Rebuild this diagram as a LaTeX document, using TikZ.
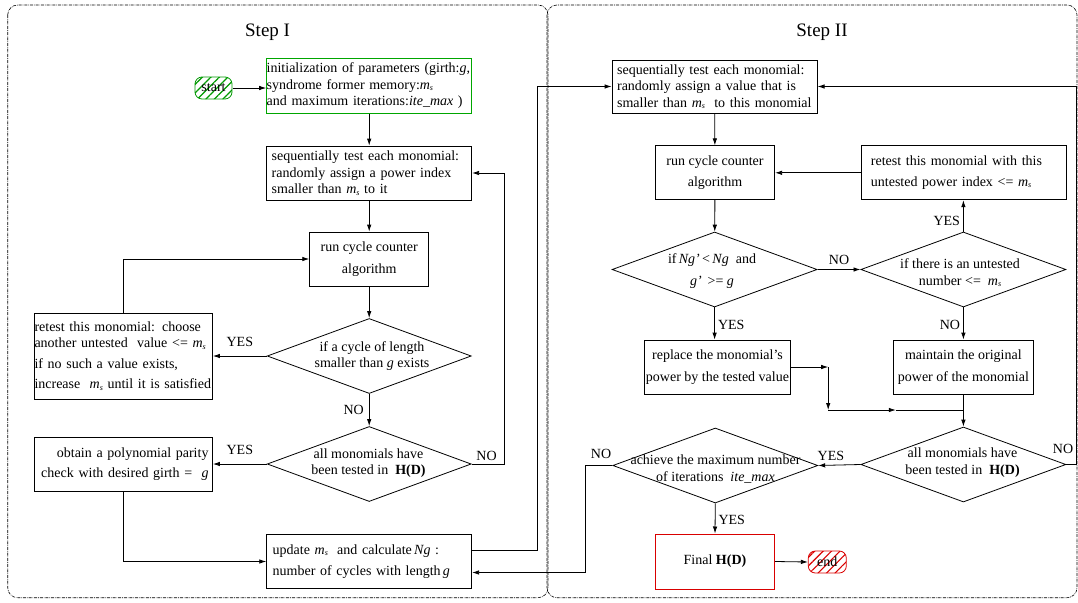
\documentclass[tikz,border=0pt]{standalone}
\usepackage{fontspec}
\setmainfont{Liberation Serif}
\usepackage{tikz}
\usetikzlibrary{shapes.geometric,patterns.meta,arrows.meta,calc}

\newcommand{\msub}{\textit{m}\raisebox{-1.5pt}{\footnotesize\textit{s}}}

\begin{document}
\begin{tikzpicture}[x=1pt,y=-1pt,
  font=\fontsize{14}{16.5}\selectfont,
  frame/.style={draw, line width=0.6pt, rounded corners=10pt,
                dash pattern=on 3pt off 1pt on 0.6pt off 1pt},
  box/.style={rectangle, draw, line width=0.8pt, inner sep=0pt,
              minimum height=54pt, align=center},
  decision/.style={diamond, draw, line width=0.8pt, inner sep=0pt,
                   minimum width=204pt, minimum height=75pt},
  term/.style={rectangle, draw, rounded corners=7pt, line width=0.8pt,
               minimum width=37pt, minimum height=22pt, inner sep=0pt},
  lbl/.style={inner sep=0pt},
  arr/.style={-{Latex[length=7pt,width=4.5pt]}, line width=0.8pt},
]
\useasboundingbox (0,0) rectangle (1078,602);

% the two stages
\draw[frame] (7.7,5) rectangle (548,597.7);
\draw[frame] (547,5) rectangle (1077,597.7);
\node[lbl, font=\fontsize{19}{22}\selectfont] (t1) at (267.6,32) {Step I};
\node[lbl, font=\fontsize{19}{22}\selectfont] (t2) at (822,32) {Step II};

% Step I
\node[term, draw=green!60!black,
      pattern={Lines[angle=45,distance=6pt,line width=1.2pt]},
      pattern color=green!60!black] (start) at (213.5,88) {start};
\node[box, draw=green!65!black, line width=1pt, text width=205pt, align=left] (init) at (369.2,86) {
  initialization of parameters (girth:\textit{g},\\
  syndrome former memory:\msub\\
  and maximum iterations:\textit{ite\_max} )};
\node[box, text width=195pt, inner xsep=5pt, align=left] (seq) at (369.2,173) {
  sequentially test each monomial:\\
  randomly assign a power index\\
  smaller than \msub{} to it};
\node[box, minimum width=119pt] (run) at (369.2,259) {
  run cycle counter\\[5pt] algorithm};
\node[decision] (cyc) at (369.2,356) {};
\node[lbl, align=center] at (372,356) {if a cycle of length\\smaller than \textit{g} exists};
\node[box, text width=178pt, minimum height=86pt, align=left] (retest) at (123.5,356) {
  retest this monomial: choose\\
  another untested\ \ value <= \msub\\[4pt]
  if no such a value exists,\\[4pt]
  increase\ \ \msub{} until it is satisfied};
\node[decision] (alltest) at (369.2,464) {};
\node[lbl, align=center] at (368.5,463) {all monomials have\\been tested in\ \ \textbf{H(D)}};
\node[box, text width=170pt, inner xsep=4pt, align=right] (obtain) at (123.5,464) {
  obtain a polynomial parity\\[4pt]
  check with desired girth =\ \ \textit{g}};
\node[box, text width=193pt, inner xsep=6pt, align=left] (upd) at (369.2,561.5) {
  update \msub{}\ \ and calculate\,\textit{Ng} :\\[5pt]
  number of cycles with length\,\textit{g}};

\draw[arr] (start.east) -- (start.east -| init.west);
\draw[arr] (init) -- (seq);
\draw[arr] (seq) -- (run);
\draw[arr] (run) -- (cyc);
\draw[arr] (cyc.west) -- node[lbl, above=9pt] {YES} (retest.east);
\draw[arr] (retest.north) |- (run.west);
\draw[arr] (cyc.south) -- node[lbl, left=5pt] {NO} (alltest.north);
\draw[arr] (alltest.west) -- node[lbl, above=9pt] {YES} (obtain.east);
\draw[arr] (alltest.east) -- node[lbl, above=3pt, pos=0.45] {NO} ++(33.2,0) |- (seq.east);
\draw[arr] (obtain.south) |- (upd.west);

% Step II
\node[box, text width=202pt, minimum height=53pt, inner xsep=1.6pt, align=left] (seq2) at (714.6,86.5) {
  \hspace*{3.5pt}sequentially test each monomial:\\
  \hspace*{3.5pt}randomly assign a value that is\\
  \hspace*{3.5pt}smaller than \msub\ \ to this monomial};
\node[box, minimum width=119.4pt] (run2) at (715,172.8) {
  run cycle counter\\[4pt] algorithm};
\node[box, text width=185pt, inner xsep=10pt, align=left] (retest2) at (963.4,172.8) {
  retest this monomial with this\\[4pt]
  untested power index <= \msub};
\node[decision, minimum width=205pt] (cmp) at (714.6,269.5) {};
\node[lbl, align=center] at (712,271) {if\,\textit{Ng'}\,<\,\textit{Ng}\ \ and\\[5pt]\textit{g'}\ \,>=\ \textit{g}};
\node[decision, minimum width=205pt] (untest) at (963.4,269.5) {};
\node[lbl, align=center] at (960,273) {if there is an untested\\number <=\ \ \msub};
\node[box, minimum width=146pt] (repl) at (717.5,367) {
  replace the monomial's\\[5pt] power by the tested value};
\node[box, minimum width=140pt] (maint) at (963.4,367) {
  maintain the original\\[5pt] power of the monomial};
\node[decision, minimum width=205pt] (alltest2) at (963.4,464.5) {};
\node[lbl, align=center] at (962.5,462.5) {all monomials have\\been tested in\ \ \textbf{H(D)}};
\node[decision, minimum width=205pt] (maxit) at (715.3,465.5) {};
\node[lbl, align=center] at (715.5,469) {achieve the maximum number\\of iterations\ \ \textit{ite\_max}};
\node[box, draw=red!85!black, line width=1pt, minimum width=119.4pt, minimum height=55pt] (final) at (715,561.5) {
  Final \textbf{H(D)}};
\node[term, draw=red!85!black, minimum width=38pt,
      pattern={Lines[angle=45,distance=6pt,line width=1.2pt]},
      pattern color=red!85!black] (end) at (827.3,562) {end};

\coordinate (j1) at (828.2,367);
\coordinate (j2) at (828.2,410);
\coordinate (j3) at (963.4,410);

\draw[arr] (seq2) -- (run2);
\draw[arr] (run2) -- (cmp);
\draw[arr] (cmp.east) -- node[lbl, above=4pt] {NO} (untest.west);
\draw[arr] (untest.north) -- node[lbl, left=3pt, pos=0.35] {YES} (retest2.south);
\draw[arr] (retest2.west) -- (run2.east);
\draw[arr] (cmp.south) -- node[lbl, right=3pt, pos=0.55] {YES} (cmp.south |- repl.north);
\draw[arr] (untest.south) -- node[lbl, left=3pt, pos=0.55] {NO} (maint.north);
\draw[arr] (repl.east) -- (j1);
\draw[arr] (j1) -- (j2);
\draw[arr] (j2) -- ($(j2)!0.5!(j3)$);
\draw[line width=0.8pt] ($(j2)!0.5!(j3)$) -- (j3);
\draw[arr] (maint.south) -- (alltest2.north);
\draw[arr] (alltest2.west) -- node[lbl, above=4pt, pos=0.7] {YES} (maxit.east);
\draw[arr] (alltest2.east) -- ++(10.4,0) |- (seq2.east);
\node[lbl] at (1063,449) {NO};
\draw[arr] (maxit.south) -- node[lbl, right=3pt, pos=0.55] {YES} (final.north);
\draw[arr] (final.east) -- (end.west);

% links between the stages
\draw[arr] ([yshift=11pt]upd.east) -- ++(64.8,0) |- (seq2.west);
\draw[arr] (maxit.west) -- ++(-27.4,0) |- ([yshift=-11pt]upd.east);
\node[lbl] at (601,454) {NO};
\end{tikzpicture}
\end{document}
